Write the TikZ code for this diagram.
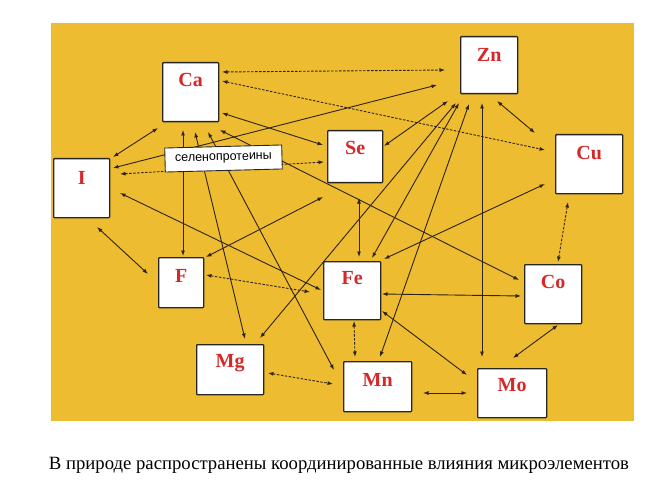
\documentclass[tikz,border=0pt]{standalone}
\usepackage{fontspec}
\setmainfont{Liberation Serif}
\newfontfamily\labfont{Liberation Sans}
\usetikzlibrary{arrows.meta,calc}
\definecolor{bgyellow}{RGB}{238,188,48}
\definecolor{elred}{RGB}{214,40,40}
\definecolor{linec}{RGB}{45,35,20}
\begin{document}
\begin{tikzpicture}[x=1pt,y=-1pt,
  box/.style={draw=black!85, line width=1.3pt, fill=white, anchor=north west, inner sep=0pt, rounded corners=0.8pt},
  el/.style={text=elred, font=\bfseries\fontsize{20}{20}\selectfont},
  link/.style={draw=linec, line width=0.9pt, {Latex[length=5.5pt,width=4pt]}-{Latex[length=5.5pt,width=4pt]}},
  dlink/.style={link, dash pattern=on 2.5pt off 1.5pt}]
\useasboundingbox (0,0) rectangle (666,497);
\fill[bgyellow] (51,23) rectangle (634,421);

% boxes
\node[box, minimum width=56pt, minimum height=59pt] (Ca) at (162,62) {};
\node[box, minimum width=56pt, minimum height=59pt] (I)  at (53,158) {};
\node[box, minimum width=57pt, minimum height=57pt] (Zn) at (460,36) {};
\node[box, minimum width=55pt, minimum height=52pt] (Se) at (327,130) {};
\node[box, minimum width=67pt, minimum height=59pt] (Cu) at (555,134) {};
\node[box, minimum width=45pt, minimum height=50pt] (F)  at (158,257) {};
\node[box, minimum width=67pt, minimum height=50pt] (Mg) at (196,344) {};
\node[box, minimum width=57pt, minimum height=58pt] (Fe) at (323,261) {};
\node[box, minimum width=57pt, minimum height=59pt] (Co) at (524,264) {};
\node[box, minimum width=68pt, minimum height=50pt] (Mn) at (343,361) {};
\node[box, minimum width=69pt, minimum height=49pt] (Mo) at (477,368) {};

% element labels
\node[el] (CaT) at ($(Ca.north)+(0,18)$) {Ca};
\node[el] (IT)  at ($(I.north)+(0,20)$) {I};
\node[el] (ZnT) at ($(Zn.north)+(0,19)$) {Zn};
\node[el] (SeT) at ($(Se.north)+(0,18)$) {Se};
\node[el] (CuT) at ($(Cu.north)+(0,19)$) {Cu};
\node[el] (FT)  at ($(F.north)+(0,19)$) {F};
\node[el] (MgT) at ($(Mg.north)+(0,19)$) {Mg};
\node[el] (FeT) at ($(Fe.north)+(0,17)$) {Fe};
\node[el] (CoT) at ($(Co.north)+(0,18)$) {Co};
\node[el] (MnT) at ($(Mn.north)+(0,19)$) {Mn};
\node[el] (MoT) at ($(Mo.north)+(0,17)$) {Mo};

% connectors
\draw[dlink] ($(Ca.north west)+(60,10)$) -- ($(Zn.north west)+(-15,34)$);
\draw[dlink] ($(Ca.north west)+(60,19)$) -- ($(Cu.north west)+(-10,16)$);
\draw[link]  ($(Ca.north west)+(60,51)$) -- ($(Se.north west)+(-4,15)$);
\draw[link]  ($(Ca.north west)+(-4,66)$) -- ($(I.north west)+(60,-1)$);
\draw[link]  ($(Ca.north west)+(21,68)$) -- ($(F.north west)+(25,-1)$);
\draw[link]  ($(Ca.north west)+(33,70)$) -- ($(Mg.north west)+(49,-5)$);
\draw[link]  ($(Ca.north west)+(46,70)$) -- ($(Mn.north west)+(-9,9)$);
\draw[link]  ($(Ca.north west)+(58,68)$) -- ($(Co.north west)+(-5,16)$);
\draw[link]  ($(I.north west)+(60,10)$) -- ($(Zn.north west)+(-23,49)$);
\draw[dlink] ($(I.north west)+(67,16)$) -- ($(Se.north west)+(-3,32)$);
\draw[link]  ($(I.north west)+(67,35)$) -- ($(Fe.north west)+(-2,29)$);
\draw[link]  ($(I.north west)+(44,69)$) -- ($(F.north west)+(-10,17)$);
\draw[link]  ($(F.north west)+(48,0)$) -- ($(Se.north west)+(-4,67)$);
\draw[dlink] ($(F.north west)+(48,18)$) -- ($(Fe.north west)+(-13,31)$);
\draw[link]  ($(Zn.north west)+(-12,65)$) -- ($(Se.north west)+(57,16)$);
\draw[link]  ($(Zn.north west)+(-1,67)$) -- ($(Fe.north west)+(49,-3)$);
\draw[link]  ($(Zn.north west)+(-4,67)$) -- ($(Mg.north west)+(64,-6)$);
\draw[link]  ($(Zn.north west)+(9,68)$) -- ($(Mn.north west)+(37,-4)$);
\draw[link]  ($(Zn.north west)+(22,67)$) -- ($(Mo.north west)+(5,-11)$);
\draw[link]  ($(Zn.north west)+(37,65)$) -- ($(Cu.north west)+(-20,-1)$);
\draw[link]  ($(Se.north west)+(32,68)$) -- ($(Fe.north west)+(36,-4)$);
\draw[link]  ($(Fe.north west)+(61,-2)$) -- ($(Cu.north west)+(-10,50)$);
\draw[link]  ($(Fe.north west)+(59,33)$) -- ($(Co.north west)+(-3,32)$);
\draw[link]  ($(Fe.north west)+(59,50)$) -- ($(Mo.north west)+(-10,7)$);
\draw[dlink] ($(Fe.north west)+(31,60)$) -- ($(Mn.north west)+(12,-4)$);
\draw[dlink] ($(Mg.north west)+(72,29)$) -- ($(Mn.north west)+(-10,23)$);
\draw[link]  ($(Mn.north west)+(80,32)$) -- ($(Mo.north west)+(-10,25)$);
\draw[link]  ($(Mo.north west)+(36,-10)$) -- ($(Co.north west)+(34,61)$);
\draw[dlink] ($(Co.north west)+(34,-2)$) -- ($(Cu.north west)+(13,68)$);

% selenoprotein label
\node[draw=black!85, fill=white, line width=0.9pt, inner sep=1pt,
      minimum width=117pt, minimum height=24pt, rotate=1.5,
      font=\labfont\fontsize{12.5}{12.5}\selectfont] (sel) at (223.5,158.5) {селенопротеины};

% caption
\node[font=\fontsize{18.7}{18.7}\selectfont] (cap) at (339,465) {В природе распространены координированные влияния микроэлементов};
\end{tikzpicture}
\end{document}
